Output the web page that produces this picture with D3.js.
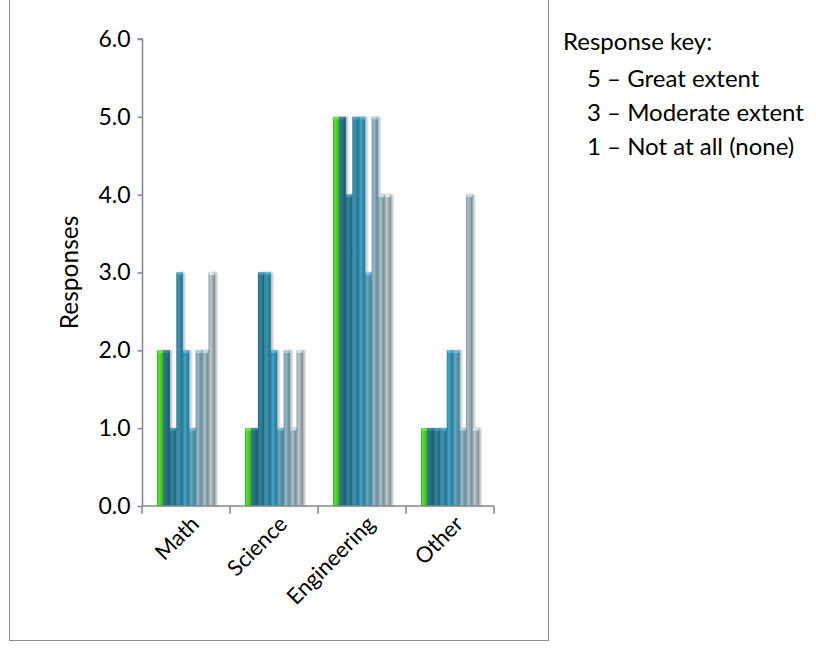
<!DOCTYPE html>
<html>
<head>
<meta charset="utf-8">
<script src="https://cdn.jsdelivr.net/npm/d3@7"></script>
<style>
  html, body { margin: 0; padding: 0; background: #fff; }
  svg { display: block; font-family: Lato, "Open Sans", sans-serif; }
</style>
</head>
<body>
<svg id="chart" width="816" height="652"></svg>
<script>
// Subject areas on the category axis
const categories = ["Math", "Science", "Engineering", "Other"];

// One array per respondent, values in category order
const resp1 = [2, 1, 5, 1];
const resp2 = [2, 1, 5, 1];
const resp3 = [1, 3, 4, 1];
const resp4 = [3, 3, 5, 1];
const resp5 = [2, 2, 5, 2];
const resp6 = [1, 1, 3, 2];
const resp7 = [2, 2, 5, 1];
const resp8 = [2, 1, 4, 4];
const resp9 = [3, 2, 4, 1];

const seriesNames = ["R1", "R2", "R3", "R4", "R5", "R6", "R7", "R8", "R9"];
const seriesValues = [resp1, resp2, resp3, resp4, resp5, resp6, resp7, resp8, resp9];
const seriesColors = ["#45cf26", "#246a80", "#2a7891", "#2f86a3", "#3491b2",
                      "#5497b0", "#80a4b4", "#92aab5", "#a2b1b6"];

const yTicks = [0, 1, 2, 3, 4, 5, 6];
const legendTitle = "Response key:";
const legendLines = ["5 \u2013 Great extent", "3 \u2013 Moderate extent", "1 \u2013 Not at all (none)"];
const yTitle = "Responses";

const svg = d3.select("#chart");
const defs = svg.append("defs");

// Soft shadow cast to the right of the bars
const shadow = defs.append("filter").attr("id", "barShadow")
  .attr("x", "-20%").attr("y", "-5%").attr("width", "160%").attr("height", "110%");
shadow.append("feDropShadow").attr("dx", 2).attr("dy", 0)
  .attr("stdDeviation", 1.2).attr("flood-color", "#000").attr("flood-opacity", 0.28);

// Cylinder-like horizontal shading per series
seriesColors.forEach((c, i) => {
  const g = defs.append("linearGradient").attr("id", "grad" + i)
    .attr("x1", "0%").attr("x2", "100%").attr("y1", "0%").attr("y2", "0%");
  const base = d3.color(c);
  g.append("stop").attr("offset", "0%").attr("stop-color", base.darker(0.5));
  g.append("stop").attr("offset", "30%").attr("stop-color", base.brighter(0.35));
  g.append("stop").attr("offset", "60%").attr("stop-color", base);
  g.append("stop").attr("offset", "100%").attr("stop-color", base.darker(0.7));
});

// Outer chart frame
svg.append("rect")
  .attr("x", 9.5).attr("y", -2).attr("width", 539).attr("height", 642.5)
  .attr("fill", "none").attr("stroke", "#8c8c8c").attr("stroke-width", 1);

const x0 = d3.scaleBand().domain(categories).range([142, 494]);
const x1 = d3.scaleBand().domain(seriesNames).range([0, x0.bandwidth()])
  .paddingInner(0).paddingOuter(2.33);
const y = d3.scaleLinear().domain([0, 6]).range([506, 39]);

// Bars
const barLayer = svg.append("g").attr("filter", "url(#barShadow)");
seriesNames.forEach((name, si) => {
  const g = barLayer.append("g");
  const data = categories.map((cat, ci) => ({ cat, v: seriesValues[si][ci] }));
  g.selectAll("rect.bar").data(data).join("rect")
    .attr("class", "bar")
    .attr("x", d => x0(d.cat) + x1(name))
    .attr("y", d => y(d.v))
    .attr("width", x1.bandwidth())
    .attr("height", d => y(0) - y(d.v))
    .attr("fill", `url(#grad${si})`);
  // light cap on the top of each bar
  g.selectAll("rect.cap").data(data).join("rect")
    .attr("class", "cap")
    .attr("x", d => x0(d.cat) + x1(name) + 0.5)
    .attr("y", d => y(d.v))
    .attr("width", x1.bandwidth() - 1)
    .attr("height", 2.5)
    .attr("fill", d3.color(seriesColors[si]).brighter(0.9))
    .attr("opacity", 0.8);
});

// Y axis
const yAxis = svg.append("g").attr("transform", "translate(142.5,0)")
  .call(d3.axisLeft(y).tickValues(yTicks).tickFormat(d3.format(".1f")).tickSize(5).tickPadding(7));
yAxis.select(".domain").attr("stroke", "#868686").attr("stroke-width", 1.5)
  .attr("d", `M-5,${y(6)}H0V${y(0)}`);
yAxis.selectAll(".tick line").attr("stroke", "#868686").attr("stroke-width", 1.5);
yAxis.selectAll(".tick text").attr("font-size", 23).attr("fill", "#000")
  .attr("font-family", "Lato, sans-serif");

// X axis with category boundary ticks
const xAxis = svg.append("g").attr("transform", `translate(0,${y(0)})`);
xAxis.append("line").attr("x1", 142).attr("x2", 494).attr("y1", 0).attr("y2", 0)
  .attr("stroke", "#868686").attr("stroke-width", 1.5);
const bounds = categories.map(c => x0(c)).concat([x0.range()[1]]);
xAxis.selectAll("line.bt").data(bounds).join("line").attr("class", "bt")
  .attr("x1", d => d).attr("x2", d => d).attr("y1", 0).attr("y2", 8)
  .attr("stroke", "#868686").attr("stroke-width", 1.5);
xAxis.selectAll("text.cat").data(categories).join("text").attr("class", "cat")
  .attr("transform", d => `translate(${x0(d) + x0.bandwidth() / 2 + 9},${14}) rotate(-45)`)
  .attr("text-anchor", "end")
  .attr("dy", "0.35em")
  .attr("font-size", 22)
  .attr("fill", "#000")
  .text(d => d);

// Y axis title
svg.append("text")
  .attr("transform", `translate(78,${(y(0) + y(6)) / 2}) rotate(-90)`)
  .attr("text-anchor", "middle")
  .attr("font-size", 24.5)
  .attr("fill", "#000")
  .text(yTitle);

// Response key
const key = svg.append("g");
key.append("text").attr("x", 563).attr("y", 50).attr("font-size", 24).attr("fill", "#000").text(legendTitle);
key.selectAll("text.k").data(legendLines).join("text").attr("class", "k")
  .attr("x", 587).attr("y", (d, i) => 87 + i * 34)
  .attr("font-size", 24).attr("fill", "#000").text(d => d);
</script>
</body>
</html>
